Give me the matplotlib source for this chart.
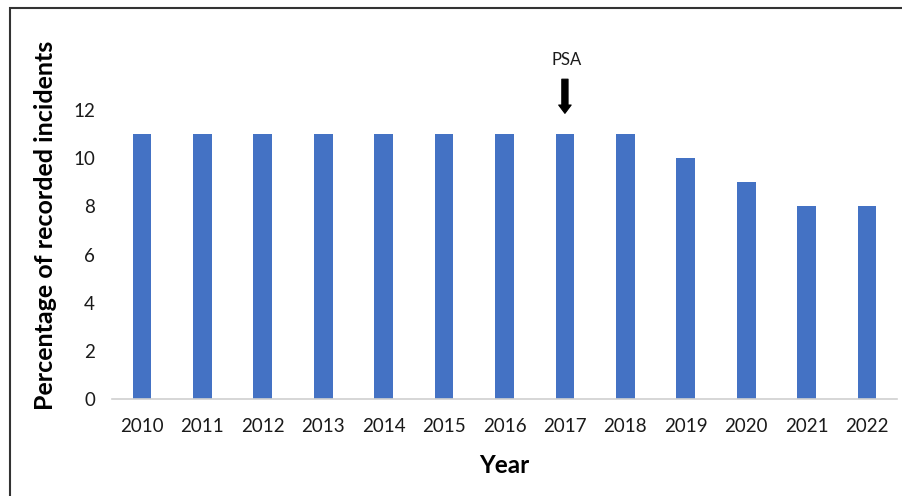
import matplotlib.pyplot as plt
from matplotlib.patches import Rectangle

years = ["2010", "2011", "2012", "2013", "2014", "2015", "2016",
         "2017", "2018", "2019", "2020", "2021", "2022"]
percent = [11, 11, 11, 11, 11, 11, 11, 11, 11, 10, 9, 8, 8]
yticks = [0, 2, 4, 6, 8, 10, 12]
marker_year = "2017"

plt.rcParams["font.family"] = ["Lato", "DejaVu Sans"]

fig = plt.figure(figsize=(9.03, 4.96), dpi=100)
ax = fig.add_axes([0.1238, 0.1956, 0.8698, 0.5824])

x = list(range(len(years)))
ax.bar(x, percent, width=0.31, color="#4472C4", zorder=2)

ax.set_xlim(-0.5, len(years) - 0.5)
ax.set_ylim(0, 12)
ax.set_yticks(yticks)
ax.set_xticks(x)
ax.set_xticklabels(years)
ax.tick_params(axis="both", length=0, labelsize=13.5, colors="#1a1a1a")
ax.tick_params(axis="x", pad=14)
ax.tick_params(axis="y", pad=12)

for side in ["top", "right", "left"]:
    ax.spines[side].set_visible(False)
ax.spines["bottom"].set_color("#d0d0d0")
ax.spines["bottom"].set_linewidth(1.2)

ax.set_xlabel("Year", fontsize=17.5, fontweight="bold")
ax.xaxis.set_label_coords(0.5, -0.19)
ax.set_ylabel("Percentage of recorded incidents", fontsize=18,
              fontweight="bold")
ax.yaxis.set_label_coords(-0.07, 0.60)

# PSA marker
i = years.index(marker_year)
ax.annotate("", xy=(i, 11.75), xytext=(i, 13.4),
            arrowprops=dict(arrowstyle="simple,head_width=0.9,head_length=0.6,tail_width=0.45",
                            color="black", lw=0.8),
            annotation_clip=False)
ax.text(i + 0.03, 14.1, "PSA", ha="center", va="center", fontsize=12,
        color="#1a1a1a", clip_on=False)

# outer frame
fig.patches.append(Rectangle((0.011, -0.05), 1.1, 1.034, transform=fig.transFigure,
                             fill=False, edgecolor="#333333", linewidth=1.5))

fig.savefig("out.png", dpi=100)
